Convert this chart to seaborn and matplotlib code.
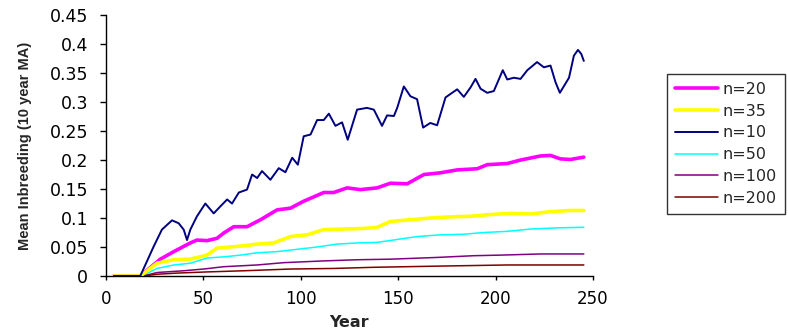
import matplotlib
matplotlib.use("Agg")
import matplotlib.pyplot as plt
import seaborn as sns
import pandas as pd

# ---- data ----
years_n10 = [4, 17.6, 24.5, 28.7, 33.9, 37.3, 39.9, 41.6, 43.3, 46.7, 51, 55.3, 58.7, 62.2, 64.7,
             68.2, 72.4, 75, 77.6, 80.1, 84.4, 88.7, 92.1, 95.6, 98.5, 101.5, 105, 108.4, 111.8,
             114.4, 117.8, 121.2, 124.1, 128.9, 134, 137.5, 141.7, 144.3, 147.8, 149.5, 152.9,
             156.3, 159.7, 162.8, 166.5, 170, 174.3, 177.7, 180.3, 183.7, 187.1, 189.7, 192.3,
             195.7, 199.1, 203.7, 206, 209.4, 212.8, 216.3, 221.3, 224.8, 228.2, 230.8, 233,
             235, 237.7, 240.2, 242.3, 244, 245.3]
vals_n10 = [0, 0, 0.051, 0.080, 0.096, 0.091, 0.080, 0.062, 0.080, 0.103, 0.125, 0.108, 0.120,
            0.132, 0.125, 0.144, 0.149, 0.175, 0.169, 0.181, 0.166, 0.186, 0.179, 0.204, 0.192,
            0.241, 0.244, 0.269, 0.269, 0.280, 0.259, 0.265, 0.235, 0.287, 0.290, 0.287, 0.259,
            0.277, 0.276, 0.290, 0.327, 0.310, 0.305, 0.256, 0.264, 0.260, 0.308, 0.316, 0.322,
            0.309, 0.325, 0.340, 0.323, 0.316, 0.319, 0.355, 0.339, 0.342, 0.340, 0.355, 0.369,
            0.360, 0.363, 0.334, 0.316, 0.327, 0.342, 0.380, 0.390, 0.383, 0.371]

years_n20 = [4, 17.6, 27.9, 34.8, 43.3, 46.7, 51.9, 57, 60.4, 65.6, 72.4, 79.3, 87.8, 94.7, 101.5,
             111.8, 116.9, 123.8, 130.6, 139.2, 146, 154.6, 163.2, 171.7, 180.3, 190.6, 195.7,
             206, 212.8, 223, 228.2, 233.3, 238.4, 245.3]
vals_n20 = [0, 0, 0.029, 0.042, 0.057, 0.062, 0.061, 0.065, 0.074, 0.085, 0.085, 0.097, 0.114,
            0.117, 0.129, 0.144, 0.144, 0.152, 0.149, 0.152, 0.160, 0.159, 0.175, 0.178, 0.183,
            0.185, 0.192, 0.194, 0.200, 0.207, 0.208, 0.202, 0.201, 0.205]

years_n35 = [4, 17.6, 26.2, 34.8, 43.3, 51.9, 57, 63.9, 70.7, 77.6, 86.1, 94.7, 103.2, 111.8,
             122.1, 132.3, 139.2, 146, 156.3, 166.5, 176.8, 187.1, 197.4, 207.7, 218, 228.2,
             238.4, 245.3]
vals_n35 = [0, 0, 0.022, 0.028, 0.029, 0.036, 0.048, 0.050, 0.052, 0.055, 0.057, 0.068, 0.071,
            0.080, 0.081, 0.082, 0.084, 0.094, 0.097, 0.100, 0.102, 0.103, 0.106, 0.108, 0.107,
            0.111, 0.113, 0.113]

years_n50 = [4, 18.5, 26.2, 34.8, 43.3, 51.9, 60.4, 69, 77.6, 87.8, 98, 108.4, 118.6, 128.9,
             139.2, 149.5, 159.7, 171.7, 183.7, 193.9, 206, 218, 231.7, 245.3]
vals_n50 = [0, 0, 0.013, 0.019, 0.022, 0.031, 0.033, 0.036, 0.040, 0.042, 0.046, 0.050, 0.055,
            0.057, 0.058, 0.063, 0.068, 0.071, 0.072, 0.075, 0.077, 0.081, 0.083, 0.084]

years_n100 = [4, 19.3, 26.2, 39.9, 50.1, 60.4, 77.6, 91.3, 111.8, 128.9, 146, 170, 188.9,
              202.6, 223, 245.3]
vals_n100 = [0, 0, 0.006, 0.009, 0.012, 0.016, 0.019, 0.023, 0.026, 0.028, 0.029, 0.032, 0.035,
             0.036, 0.038, 0.038]

years_n200 = [4, 19.3, 26.2, 36.5, 51.9, 70.7, 94.7, 116.9, 137.5, 170, 206, 245.3]
vals_n200 = [0, 0, 0.003, 0.005, 0.007, 0.009, 0.012, 0.013, 0.015, 0.017, 0.019, 0.019]

series_labels = ["n=20", "n=35", "n=10", "n=50", "n=100", "n=200"]
series_years = [years_n20, years_n35, years_n10, years_n50, years_n100, years_n200]
series_vals = [vals_n20, vals_n35, vals_n10, vals_n50, vals_n100, vals_n200]
series_colors = ["#FF00FF", "#FFFF00", "#000080", "#00FFFF", "#800080", "#800000"]
series_widths = [2.6, 2.6, 1.4, 1.1, 1.1, 1.1]

x_ticks = [0, 50, 100, 150, 200, 250]
y_ticks = [0, 0.05, 0.1, 0.15, 0.2, 0.25, 0.3, 0.35, 0.4, 0.45]
y_tick_labels = ["0", "0.05", "0.1", "0.15", "0.2", "0.25", "0.3", "0.35", "0.4", "0.45"]

# ---- plot ----
sns.set_style("ticks")
plt.rcParams["font.family"] = ["DejaVu Sans"]

fig = plt.figure(figsize=(7.88, 3.34), dpi=100)
ax = fig.add_axes([0.1345, 0.1737, 0.618, 0.781])

zorders = [3, 3, 4, 2, 2, 2]
for lab, xs, ys, col, lw, zo in zip(series_labels, series_years, series_vals,
                                    series_colors, series_widths, zorders):
    df = pd.DataFrame({"Year": xs, "val": ys})
    sns.lineplot(data=df, x="Year", y="val", ax=ax, color=col, linewidth=lw,
                 label=lab, zorder=zo, estimator=None, sort=False)

ax.set_xlim(0, 250)
ax.set_ylim(0, 0.45)
ax.set_xticks(x_ticks)
ax.set_yticks(y_ticks)
ax.set_yticklabels(y_tick_labels)
ax.tick_params(axis="x", direction="out", length=3, width=1, labelsize=12, pad=7, colors="black")
ax.tick_params(axis="y", direction="out", length=4.3, width=1, labelsize=12.5, pad=8.5, colors="black")
for s in ["top", "right"]:
    ax.spines[s].set_visible(False)
for s in ["left", "bottom"]:
    ax.spines[s].set_color("black")
    ax.spines[s].set_linewidth(1)

ax.set_xlabel("Year", fontsize=11.5, fontweight="bold", labelpad=5)
ax.set_ylabel("Mean Inbreeding (10 year MA)", fontsize=10.5,
              fontweight="bold",
              fontfamily=["Liberation Sans Narrow", "Liberation Sans"])
ax.yaxis.set_label_coords(-0.152, 0.5)

leg = ax.legend(loc="upper left", bbox_to_anchor=(667 / 788, 1 - 74 / 334),
                bbox_transform=fig.transFigure, frameon=True, fancybox=False,
                edgecolor="black", fontsize=11.5, handlelength=2.7, handletextpad=0.3,
                labelspacing=0.42, borderpad=0.5, borderaxespad=0)
leg.get_frame().set_linewidth(1)

fig.savefig("out.png", dpi=100)
